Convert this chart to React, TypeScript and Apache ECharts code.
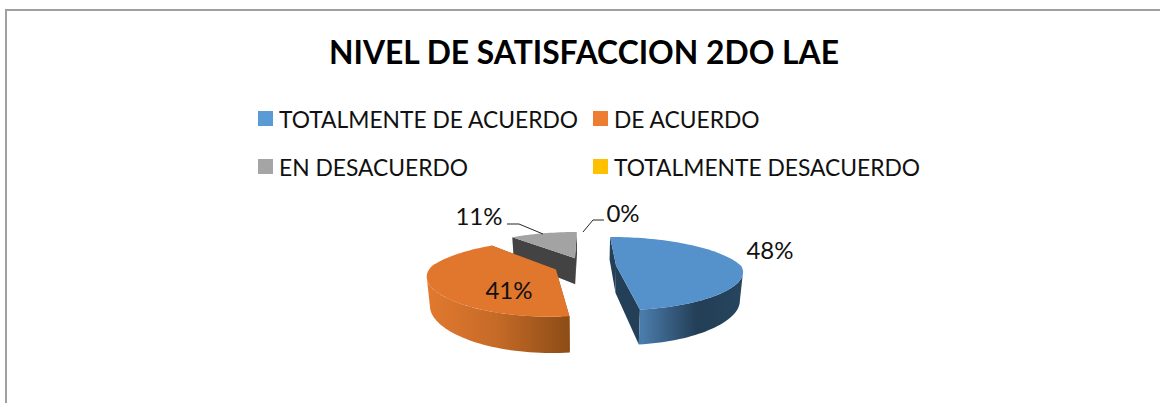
import React, { useEffect, useRef } from "react";
import * as echarts from "echarts";

const titleText = "NIVEL DE SATISFACCION 2DO LAE";
const categories = ["TOTALMENTE DE ACUERDO", "DE ACUERDO", "EN DESACUERDO", "TOTALMENTE DESACUERDO"];
const percentValues = [48, 41, 11, 0];

const legendColors = ["#5b9bd5", "#ed7d31", "#a5a5a5", "#ffc000"];
const topColors = ["#5592cb", "#e1762d", "#a3a3a3", "#ffc000"];
const wallColors = ["#243f58", "#8e4d17", "#434343", "#7f6000"];
const rimStops: [number, string][][] = [
  [[0, "#4a7cab"], [0.55, "#233e56"], [1, "#27455f"]],
  [[0, "#e2792f"], [0.5, "#c56a27"], [1, "#8e4d17"]],
  [[0, "#434343"], [1, "#434343"]],
  [[0, "#7f6000"], [1, "#7f6000"]],
];
const rimRanges = [[642, 742], [427, 567], [510, 580], [570, 580]];

const PIE = { xc: 585, yc: 266, rx: 125, ry: 35, kFar: 0.24, kNear: 0.15, k: 0.22, depth: 27.5, shrink: 0.02, explode: 0.25 };
const FONT = "Lato, Carlito, sans-serif";
const labelPos = [[770, 249], [509, 289], [479, 215], [623, 212]];
const leaders: number[][][] = [
  [], [],
  [[507, 224], [519, 224], [543, 234]],
  [[604, 220], [593, 220], [583, 232]],
];

function project(X: number, V: number, Z: number): number[] {
  const s = 1 / (1 + PIE.k * V);
  const sx = 1 / (1 + (V < 0 ? PIE.kNear : PIE.kFar) * V);
  return [PIE.xc + X * PIE.rx * sx * (1 - PIE.shrink * Z), PIE.yc - V * PIE.ry * s + Z * PIE.depth * s];
}

function arc(a0: number, a1: number, ox: number, ov: number, Z: number): number[][] {
  const n = Math.max(2, Math.ceil(Math.abs(a1 - a0) / 2));
  const out: number[][] = [];
  for (let i = 0; i <= n; i++) {
    const t = ((a0 + ((a1 - a0) * i) / n) * Math.PI) / 180;
    out.push(project(ox + Math.sin(t), ov + Math.cos(t), Z));
  }
  return out;
}

// angle of the slice's outline where it reaches furthest sideways (dir = +1 right, -1 left)
function silhouetteAngle(a0: number, a1: number, ox: number, ov: number, dir: number): number {
  let best = a0;
  let bestX = -Infinity;
  for (let a = a0; a <= a1; a += 0.5) {
    const t = (a * Math.PI) / 180;
    const x = dir * project(ox + Math.sin(t), ov + Math.cos(t), 0)[0];
    if (x > bestX) {
      bestX = x;
      best = a;
    }
  }
  return best;
}

function sliceGroup(idx: number) {
  const total = percentValues.reduce((a, b) => a + b, 0);
  const before = percentValues.slice(0, idx).reduce((a, b) => a + b, 0);
  const a0 = (before / total) * 360;
  const a1 = ((before + percentValues[idx]) / total) * 360;
  const mid = (((a0 + a1) / 2) * Math.PI) / 180;
  const ox = PIE.explode * Math.sin(mid);
  const ov = PIE.explode * Math.cos(mid);
  const children: any[] = [];

  if (a1 - a0 > 0.01) {
    const apexTop = project(ox, ov, 0);
    const apexBot = project(ox, ov, 1);
    const wall = (a: number) => {
      const t = (a * Math.PI) / 180;
      const X = ox + Math.sin(t);
      const V = ov + Math.cos(t);
      return { type: "polygon", shape: { points: [apexTop, project(X, V, 0), project(X, V, 1), apexBot] }, style: { fill: wallColors[idx] } };
    };
    children.push(wall(a0), wall(a1));

    const r0 = a0 < 90 ? silhouetteAngle(a0, Math.min(a1, 180), ox, ov, 1) : a0;
    const r1 = a1 > 270 ? silhouetteAngle(Math.max(a0, 180), a1, ox, ov, -1) : a1;
    if (a0 < 270 && a1 > 90 && r1 > r0) {
      const [gx0, gx1] = rimRanges[idx];
      children.push({
        type: "polygon",
        shape: { points: [...arc(r0, r1, ox, ov, 0), ...arc(r1, r0, ox, ov, 1)] },
        style: {
          fill: {
            type: "linear", x: gx0, y: 0, x2: gx1, y2: 0, global: true,
            colorStops: rimStops[idx].map(([offset, color]) => ({ offset, color })),
          },
        },
      });
    }
    children.push({
      type: "polygon",
      shape: { points: [apexTop, ...arc(a0, a1, ox, ov, 0)] },
      style: { fill: topColors[idx] },
    });
  }

  if (leaders[idx].length) {
    children.push({
      type: "polyline",
      shape: { points: leaders[idx] },
      style: { stroke: "#262626", lineWidth: 1, fill: "none" },
    });
  }
  children.push({
    type: "text",
    style: {
      text: `${percentValues[idx]}%`,
      x: labelPos[idx][0],
      y: labelPos[idx][1],
      fill: "#111111",
      font: `24px ${FONT}`,
      textAlign: "center",
      textVerticalAlign: "middle",
    },
  });
  return { type: "group", children };
}

export default function App() {
  const ref = useRef<HTMLDivElement>(null);
  useEffect(() => {
    const chart = echarts.init(ref.current!, undefined, { renderer: "svg" });
    const zOrder = [4, 3, 2, 1];
    const legendBase = {
      orient: "vertical" as const,
      icon: "rect",
      itemWidth: 15,
      itemHeight: 15,
      itemGap: 25,
      selectedMode: false,
      padding: 0,
      textStyle: { fontFamily: FONT, fontSize: 22.8, color: "#111111", padding: [0, 0, 0, 1] },
    };
    chart.setOption({
      animation: false,
      backgroundColor: "#ffffff",
      title: {
        text: titleText,
        left: 584,
        textAlign: "center",
        top: 36,
        padding: 0,
        textStyle: { fontFamily: FONT, fontWeight: "bold", fontSize: 31.8, color: "#000000" },
      },
      legend: [
        { ...legendBase, left: 258, top: 107, data: [categories[0], categories[2]] },
        { ...legendBase, left: 593, top: 107, data: [categories[1], categories[3]] },
      ],
      graphic: [
        { type: "polyline", silent: true, shape: { points: [[6, 403], [6, 10], [1160, 10]] }, style: { stroke: "#a0a0a0", lineWidth: 2, fill: "none" } },
      ],
      series: categories.map((name, i) => ({
        type: "custom",
        name,
        coordinateSystem: "none",
        silent: true,
        z: zOrder[i] + 2,
        itemStyle: { color: legendColors[i] },
        data: [[percentValues[i]]],
        renderItem: () => sliceGroup(i),
      })),
    });
    return () => chart.dispose();
  }, []);
  return <div ref={ref} style={{ position: "absolute", left: 0, top: 0, width: 1160, height: 403 }} />;
}
